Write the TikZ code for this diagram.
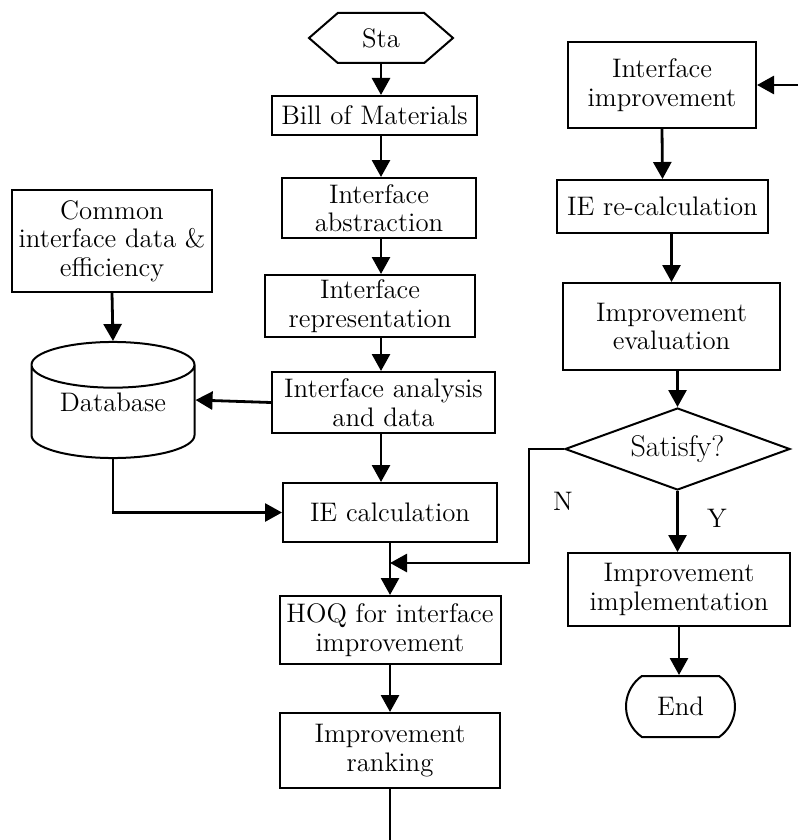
\documentclass[tikz,border=0pt]{standalone}
\usepackage{amsmath}
\usepackage{tikz}
\usetikzlibrary{positioning,shapes.geometric,shapes.misc,shapes.symbols,arrows.meta}

\begin{document}
\begin{tikzpicture}[x=0.5pt, y=-0.5pt,
    box/.style={draw, rectangle, line width=1pt, align=center, inner sep=2pt, font=\fontsize{13.4}{14.2}\selectfont},
    link/.style={line width=1.4pt, -{Triangle[length=8.5pt,width=9pt]}},
    tag/.style={font=\fontsize{13.4}{14.2}\selectfont}]
            \useasboundingbox (0,0) rectangle (798,840);

            % main column
            \node (start) [box, signal, signal to=west and east, signal pointer angle=82, minimum width=72pt, minimum height=25pt] at (381,38) {Sta};
            \node (bom) [box, minimum width=102.5pt, minimum height=19.5pt] at (374.5,115.5) {Bill of Materials};
            \node (abstraction) [box, minimum width=97pt, minimum height=30pt] at (379,208) {Interface\\abstraction};
            \node (representation) [box, minimum width=105pt, minimum height=31pt] at (370,306) {Interface\\representation};
            \node (analysis) [box, minimum width=111.5pt, minimum height=30.5pt] at (383.5,402.5) {Interface analysis\\and data};
            \node (iecalc) [box, minimum width=107pt, minimum height=29.5pt] at (390,512.5) {IE calculation};
            \node (hoq) [box, minimum width=110.5pt, minimum height=34pt] at (390,630) {HOQ for interface\\improvement};
            \node (ranking) [box, minimum width=110pt, minimum height=37.5pt] at (390,750.5) {Improvement\\ranking};

            % data side
            \node (commondata) [box, minimum width=100pt, minimum height=51pt] at (112,241) {Common\\interface data \&\\efficiency};
            \node (database) [box, cylinder, shape border rotate=90, aspect=0.4, text depth=13.5pt, minimum width=81.5pt, minimum height=57pt, anchor=shape center] at (113,400) {Database};

            % improvement loop
            \node (improvement) [box, minimum width=94pt, minimum height=43pt] at (662,85) {Interface\\improvement};
            \node (recalc) [box, minimum width=105.5pt, minimum height=26.5pt] at (662.5,206.5) {IE re-calculation};
            \node (evaluation) [box, minimum width=108.5pt, minimum height=43.5pt] at (671.5,326.5) {Improvement\\evaluation};
            \node (satisfy) [box, diamond, aspect=2.74, inner sep=0pt, minimum width=112.5pt, minimum height=41pt, font=\fontsize{15}{17}\selectfont] at (677.5,449) {Satisfy?};
            \node (implementation) [box, minimum width=111pt, minimum height=36.5pt] at (679,589.5) {Improvement\\implementation};
            \node (stop) [box, rounded rectangle, rounded rectangle arc length=110, minimum width=58.5pt, minimum height=30.5pt] at (680.5,706.5) {End};

            \node (nlabel) [tag] at (563,501) {N};
            \node (ylabel) [tag] at (717,518) {Y};

            \coordinate (loopin) at (798,85);
            \coordinate (loopout) at (390,840);
            \coordinate (nturn) at (529,563);

            \draw[link] (start.south) -- (start.south |- bom.north);
            \draw[link] (start.south |- bom.south) -- (start.south |- abstraction.north);
            \draw[link] (start.south |- abstraction.south) -- (start.south |- representation.north);
            \draw[link] (start.south |- representation.south) -- (start.south |- analysis.north);
            \draw[link] (start.south |- analysis.south) -- (start.south |- iecalc.north);
            \draw[link] (iecalc.south) -- (hoq.north);
            \draw[link] (hoq.south) -- (ranking.north);
            \draw[line width=1.4pt] (ranking.south) -- (loopout);

            \draw[link] (commondata.south) -- (database.north);
            \draw[link] (analysis.west) -- (database.east |- database.shape center);
            \draw[link] (database.south) |- (iecalc.west);

            \draw[link] (loopin) -- (improvement.east);
            \draw[link] (improvement.south) -- (recalc.north);
            \draw[link] (recalc.south -| evaluation.north) -- (evaluation.north);
            \draw[link] (evaluation.south -| satisfy.north) -- (satisfy.north);
            \draw[link] (satisfy.south) -- (satisfy.south |- implementation.north);
            \draw[link] (implementation.south) -- (implementation.south |- stop.north);
            \draw[link] (satisfy.west) -| (nturn) -- (nturn -| hoq.north);
        \end{tikzpicture}
\end{document}
